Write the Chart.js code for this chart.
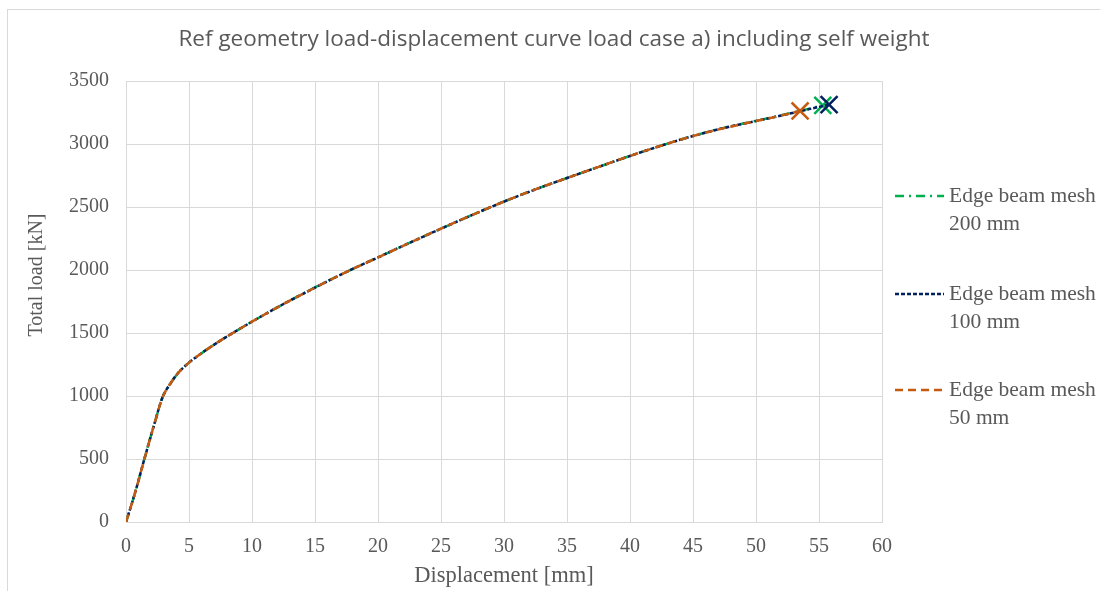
<!DOCTYPE html>
<html>
<head>
<meta charset="utf-8">
<script src="https://cdn.jsdelivr.net/npm/chart.js@4.4.1/dist/chart.umd.min.js"></script>
<style>
  html, body { margin: 0; padding: 0; background: #fff; overflow: hidden; }
  #wrap { position: relative; width: 1100px; height: 591px; }
  #frame { position: absolute; left: 7px; top: 9px; width: 1200px; height: 700px;
           border-left: 1px solid #d9d9d9; border-top: 1px solid #d9d9d9; }
  canvas { position: absolute; left: 0; top: 0; }
</style>
</head>
<body>
<div id="wrap">
  <div id="frame"></div>
  <canvas id="myChart" width="1100" height="591"></canvas>
</div>
<script>
// chart values
const chartTitle = 'Ref geometry load-displacement curve load case a) including self weight';
const xTitle = 'Displacement [mm]';
const yTitle = 'Total load [kN]';
const xTicks = [0, 5, 10, 15, 20, 25, 30, 35, 40, 45, 50, 55, 60];
const yTicks = [0, 500, 1000, 1500, 2000, 2500, 3000, 3500];

const names200 = ['Edge beam mesh', '200 mm'];
const disp200 = [0, 0.7, 1.5, 2.3, 2.9, 3.5, 4.2, 5.0, 6.0, 7.5, 10, 12.5, 15, 17.5, 20, 22.5, 25, 27.5, 30, 32.5, 35, 37.5, 40, 42.5, 45, 47.5, 50, 52, 54, 55.3];
const load200 = [0, 225, 515, 795, 990, 1095, 1190, 1265, 1340, 1440, 1590, 1730, 1862, 1985, 2100, 2215, 2328, 2438, 2543, 2640, 2730, 2818, 2905, 2988, 3064, 3130, 3184, 3228, 3275, 3306];

const names100 = ['Edge beam mesh', '100 mm'];
const disp100 = [0, 0.7, 1.5, 2.3, 2.9, 3.5, 4.2, 5.0, 6.0, 7.5, 10, 12.5, 15, 17.5, 20, 22.5, 25, 27.5, 30, 32.5, 35, 37.5, 40, 42.5, 45, 47.5, 50, 52, 54, 55.8];
const load100 = [0, 225, 515, 795, 990, 1095, 1190, 1265, 1340, 1440, 1590, 1730, 1860, 1985, 2100, 2215, 2328, 2438, 2543, 2640, 2730, 2818, 2905, 2988, 3063, 3128, 3182, 3226, 3272, 3313];

const names50 = ['Edge beam mesh', '50 mm'];
const disp50 = [0, 0.7, 1.5, 2.3, 2.9, 3.5, 4.2, 5.0, 6.0, 7.5, 10, 12.5, 15, 17.5, 20, 22.5, 25, 27.5, 30, 32.5, 35, 37.5, 40, 42.5, 45, 47.5, 50, 52, 53.5];
const load50 = [0, 225, 515, 795, 990, 1095, 1190, 1265, 1340, 1440, 1590, 1730, 1860, 1985, 2100, 2215, 2328, 2438, 2543, 2640, 2730, 2818, 2905, 2988, 3063, 3127, 3182, 3226, 3262];

const textColor = '#595959';
const gridColor = '#d9d9d9';
const serif = "'Liberation Serif', 'Times New Roman', serif";

function toPoints(xs, ys) {
    return xs.map((x, i) => ({x: x, y: ys[i]}));
}

function makeSeries(names, xs, ys, color, dash, order) {
    const last = xs.length - 1;
    return {
        label: names.join(' '),
        lines: names,
        data: toPoints(xs, ys),
        showLine: true,
        borderColor: color,
        backgroundColor: color,
        borderWidth: 2.5,
        borderDash: dash,
        borderCapStyle: 'butt',
        cubicInterpolationMode: 'monotone',
        pointStyle: 'crossRot',
        pointRadius: (c) => c.dataIndex === last ? 12 : 0,
        pointHoverRadius: 0,
        pointBorderWidth: 2.5,
        pointBorderColor: color,
        order: order
    };
}

const series = [
    makeSeries(names200, disp200, load200, '#00b050', [9, 5, 2, 5], 2),
    makeSeries(names100, disp100, load100, '#002060', [4, 2], 1),
    makeSeries(names50, disp50, load50, '#c55a11', [8, 5], 0)
];

// legend drawn in the space on the right, two lines per entry,
// plus the y axis title, which sits a bit above the middle in the original
const sideLegend = {
    id: 'sideLegend',
    afterDraw(chart) {
        const ctx = chart.ctx;
        const rows = [196, 294, 390];
        ctx.save();
        ctx.font = '21.5px ' + serif;
        ctx.textBaseline = 'middle';
        ctx.fillStyle = textColor;
        chart.data.datasets.forEach((ds, i) => {
            const y = rows[i];
            ctx.save();
            ctx.strokeStyle = ds.borderColor;
            ctx.lineWidth = ds.borderWidth;
            ctx.setLineDash(ds.borderDash);
            ctx.beginPath();
            ctx.moveTo(895, y);
            ctx.lineTo(944, y);
            ctx.stroke();
            ctx.restore();
            ds.lines.forEach((t, k) => {
                ctx.fillText(t, 949, y + k * 28);
            });
        });

        ctx.translate(37, 275);
        ctx.rotate(-Math.PI / 2);
        ctx.font = '20px ' + serif;
        ctx.textAlign = 'center';
        ctx.fillText(yTitle, 0, 0);
        ctx.restore();
    }
};

const chartContext = document.getElementById('myChart').getContext('2d');
const myChart = new Chart(chartContext, {
    type: 'scatter',
    data: {datasets: series},
    options: {
        responsive: false,
        animation: false,
        events: [],
        layout: {padding: {left: 8, top: 10, right: 0, bottom: 0}},
        plugins: {
            legend: {display: false},
            tooltip: {enabled: false},
            title: {
                display: true,
                text: chartTitle,
                color: textColor,
                font: {family: "'Open Sans', sans-serif", size: 22.5, weight: 'normal'},
                padding: {top: 16.5, bottom: 27.5}
            }
        },
        scales: {
            x: {
                type: 'linear',
                min: 0,
                max: 60,
                afterBuildTicks: (s) => { s.ticks = xTicks.map(v => ({value: v})); },
                afterFit: (s) => { s.height = 69; },
                grid: {color: gridColor, drawTicks: false},
                border: {color: gridColor},
                ticks: {color: textColor, padding: 13, font: {family: serif, size: 20},
                        callback: (v) => String(v)},
                title: {display: true, text: xTitle, color: textColor,
                        font: {family: serif, size: 22.5}, padding: {top: 0, bottom: 1.5}}
            },
            y: {
                type: 'linear',
                min: 0,
                max: 3500,
                afterBuildTicks: (s) => { s.ticks = yTicks.map(v => ({value: v})); },
                afterFit: (s) => { s.width = 118; },
                grid: {color: gridColor, drawTicks: false},
                border: {color: gridColor},
                ticks: {color: textColor, padding: 17, font: {family: serif, size: 20},
                        callback: (v) => String(v)},
                title: {display: false}
            },
            side: {
                position: 'right',
                display: true,
                afterFit: (s) => { s.width = 218; },
                grid: {display: false},
                border: {display: false},
                ticks: {display: false}
            }
        }
    },
    plugins: [sideLegend]
});
</script>
</body>
</html>
